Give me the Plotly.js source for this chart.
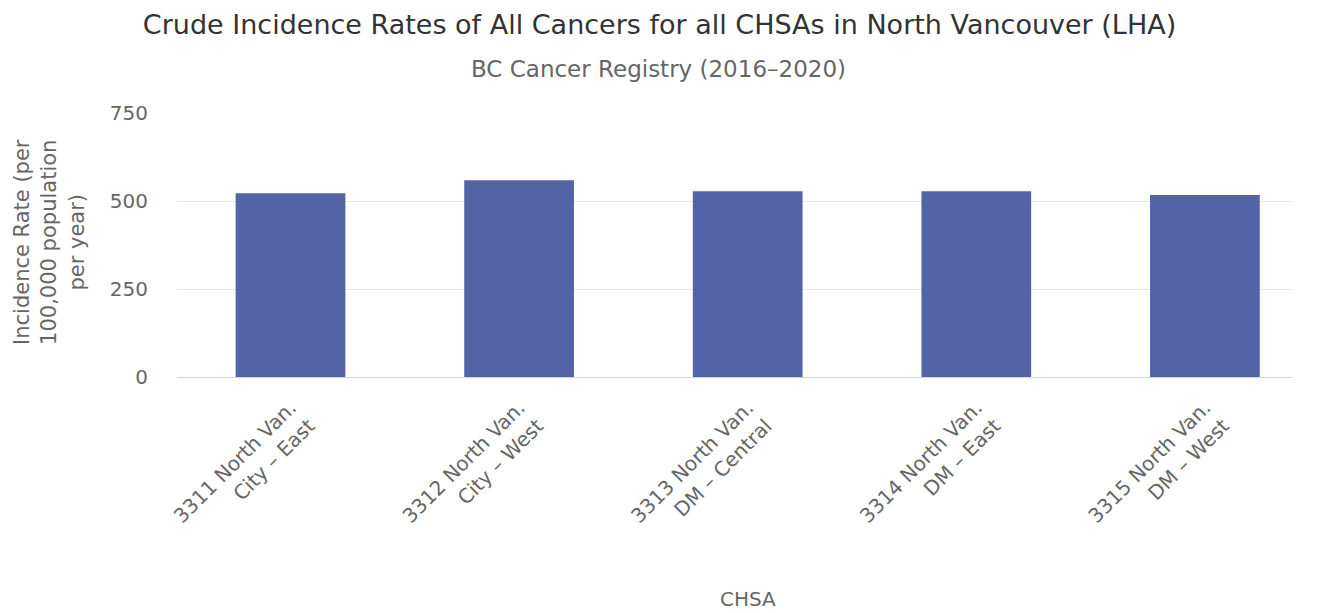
<!DOCTYPE html>
<html>
<head>
<meta charset="utf-8">
<script src="https://cdn.plot.ly/plotly-3.0.1.min.js"></script>
<style>
  body { margin: 0; padding: 0; background: #fff; }
  #plotArea { width: 1319px; height: 613px; }
</style>
</head>
<body>
<div id="plotArea"></div>
<script>
// CHSA categories and crude incidence rates (per 100,000 per year)
var chsaNames = [
    "3311 North Van.<br>City – East",
    "3312 North Van.<br>City – West",
    "3313 North Van.<br>DM – Central",
    "3314 North Van.<br>DM – East",
    "3315 North Van.<br>DM – West"
];
var rates = [522, 559, 528, 528, 517];
var yTicks = [0, 250, 500, 750];

var trace = {
    x: [0, 1, 2, 3, 4],
    y: rates,
    type: "bar",
    marker: {color: "#5264a6"},
    hoverinfo: "none"
};

var layout = {
    width: 1319,
    height: 613,
    font: {family: "DejaVu Sans, sans-serif", color: "#666666"},
    title: {
        text: "Crude Incidence Rates of All Cancers for all CHSAs in North Vancouver (LHA)",
        font: {size: 27, color: "#333333"},
        x: 0.5,
        xanchor: "center",
        y: 0.96,
        yanchor: "middle"
    },
    annotations: [{
        // subtitle, centred on the page like the title
        text: "BC Cancer Registry (2016–2020)",
        xref: "paper", yref: "paper",
        x: 0.432, y: 1,
        xanchor: "center", yanchor: "middle",
        yshift: 44,
        showarrow: false,
        font: {size: 23, color: "#666666"}
    }, {
        text: "CHSA",
        xref: "paper", yref: "paper",
        x: 0.512, y: 0,
        xanchor: "center", yanchor: "middle",
        yshift: -222,
        showarrow: false,
        font: {size: 20, color: "#666666"}
    }, {
        text: "Incidence Rate (per<br>100,000 population<br>per year)",
        xref: "paper", yref: "paper",
        x: 0, y: 0.5,
        xanchor: "center", yanchor: "middle",
        xshift: -128,
        yshift: 3,
        textangle: -90,
        showarrow: false,
        font: {size: 21, color: "#666666"}
    }],
    margin: {l: 177, r: 27, t: 113, b: 236},
    bargap: 0.52,
    showlegend: false,
    plot_bgcolor: "#ffffff",
    paper_bgcolor: "#ffffff",
    xaxis: {
        range: [-0.4965, 4.381],
        tickmode: "array",
        tickvals: [0, 1, 2, 3, 4],
        ticktext: chsaNames,
        tickangle: -45,
        tickfont: {size: 20, color: "#666666"},
        ticklabelstandoff: 10,
        showgrid: false,
        showline: true,
        linecolor: "#ccd6eb",
        linewidth: 1,
        ticks: ""
    },
    yaxis: {
        range: [0, 750],
        tickmode: "array",
        tickvals: yTicks,
        ticktext: yTicks.map(String),
        tickfont: {size: 20, color: "#666666"},
        ticklabelstandoff: 28,
        gridcolor: "#e6e6e6",
        gridwidth: 1,
        zeroline: false,
        showline: false,
        ticks: ""
    }
};

Plotly.newPlot("plotArea", [trace], layout, {displayModeBar: false, staticPlot: true});
</script>
</body>
</html>
